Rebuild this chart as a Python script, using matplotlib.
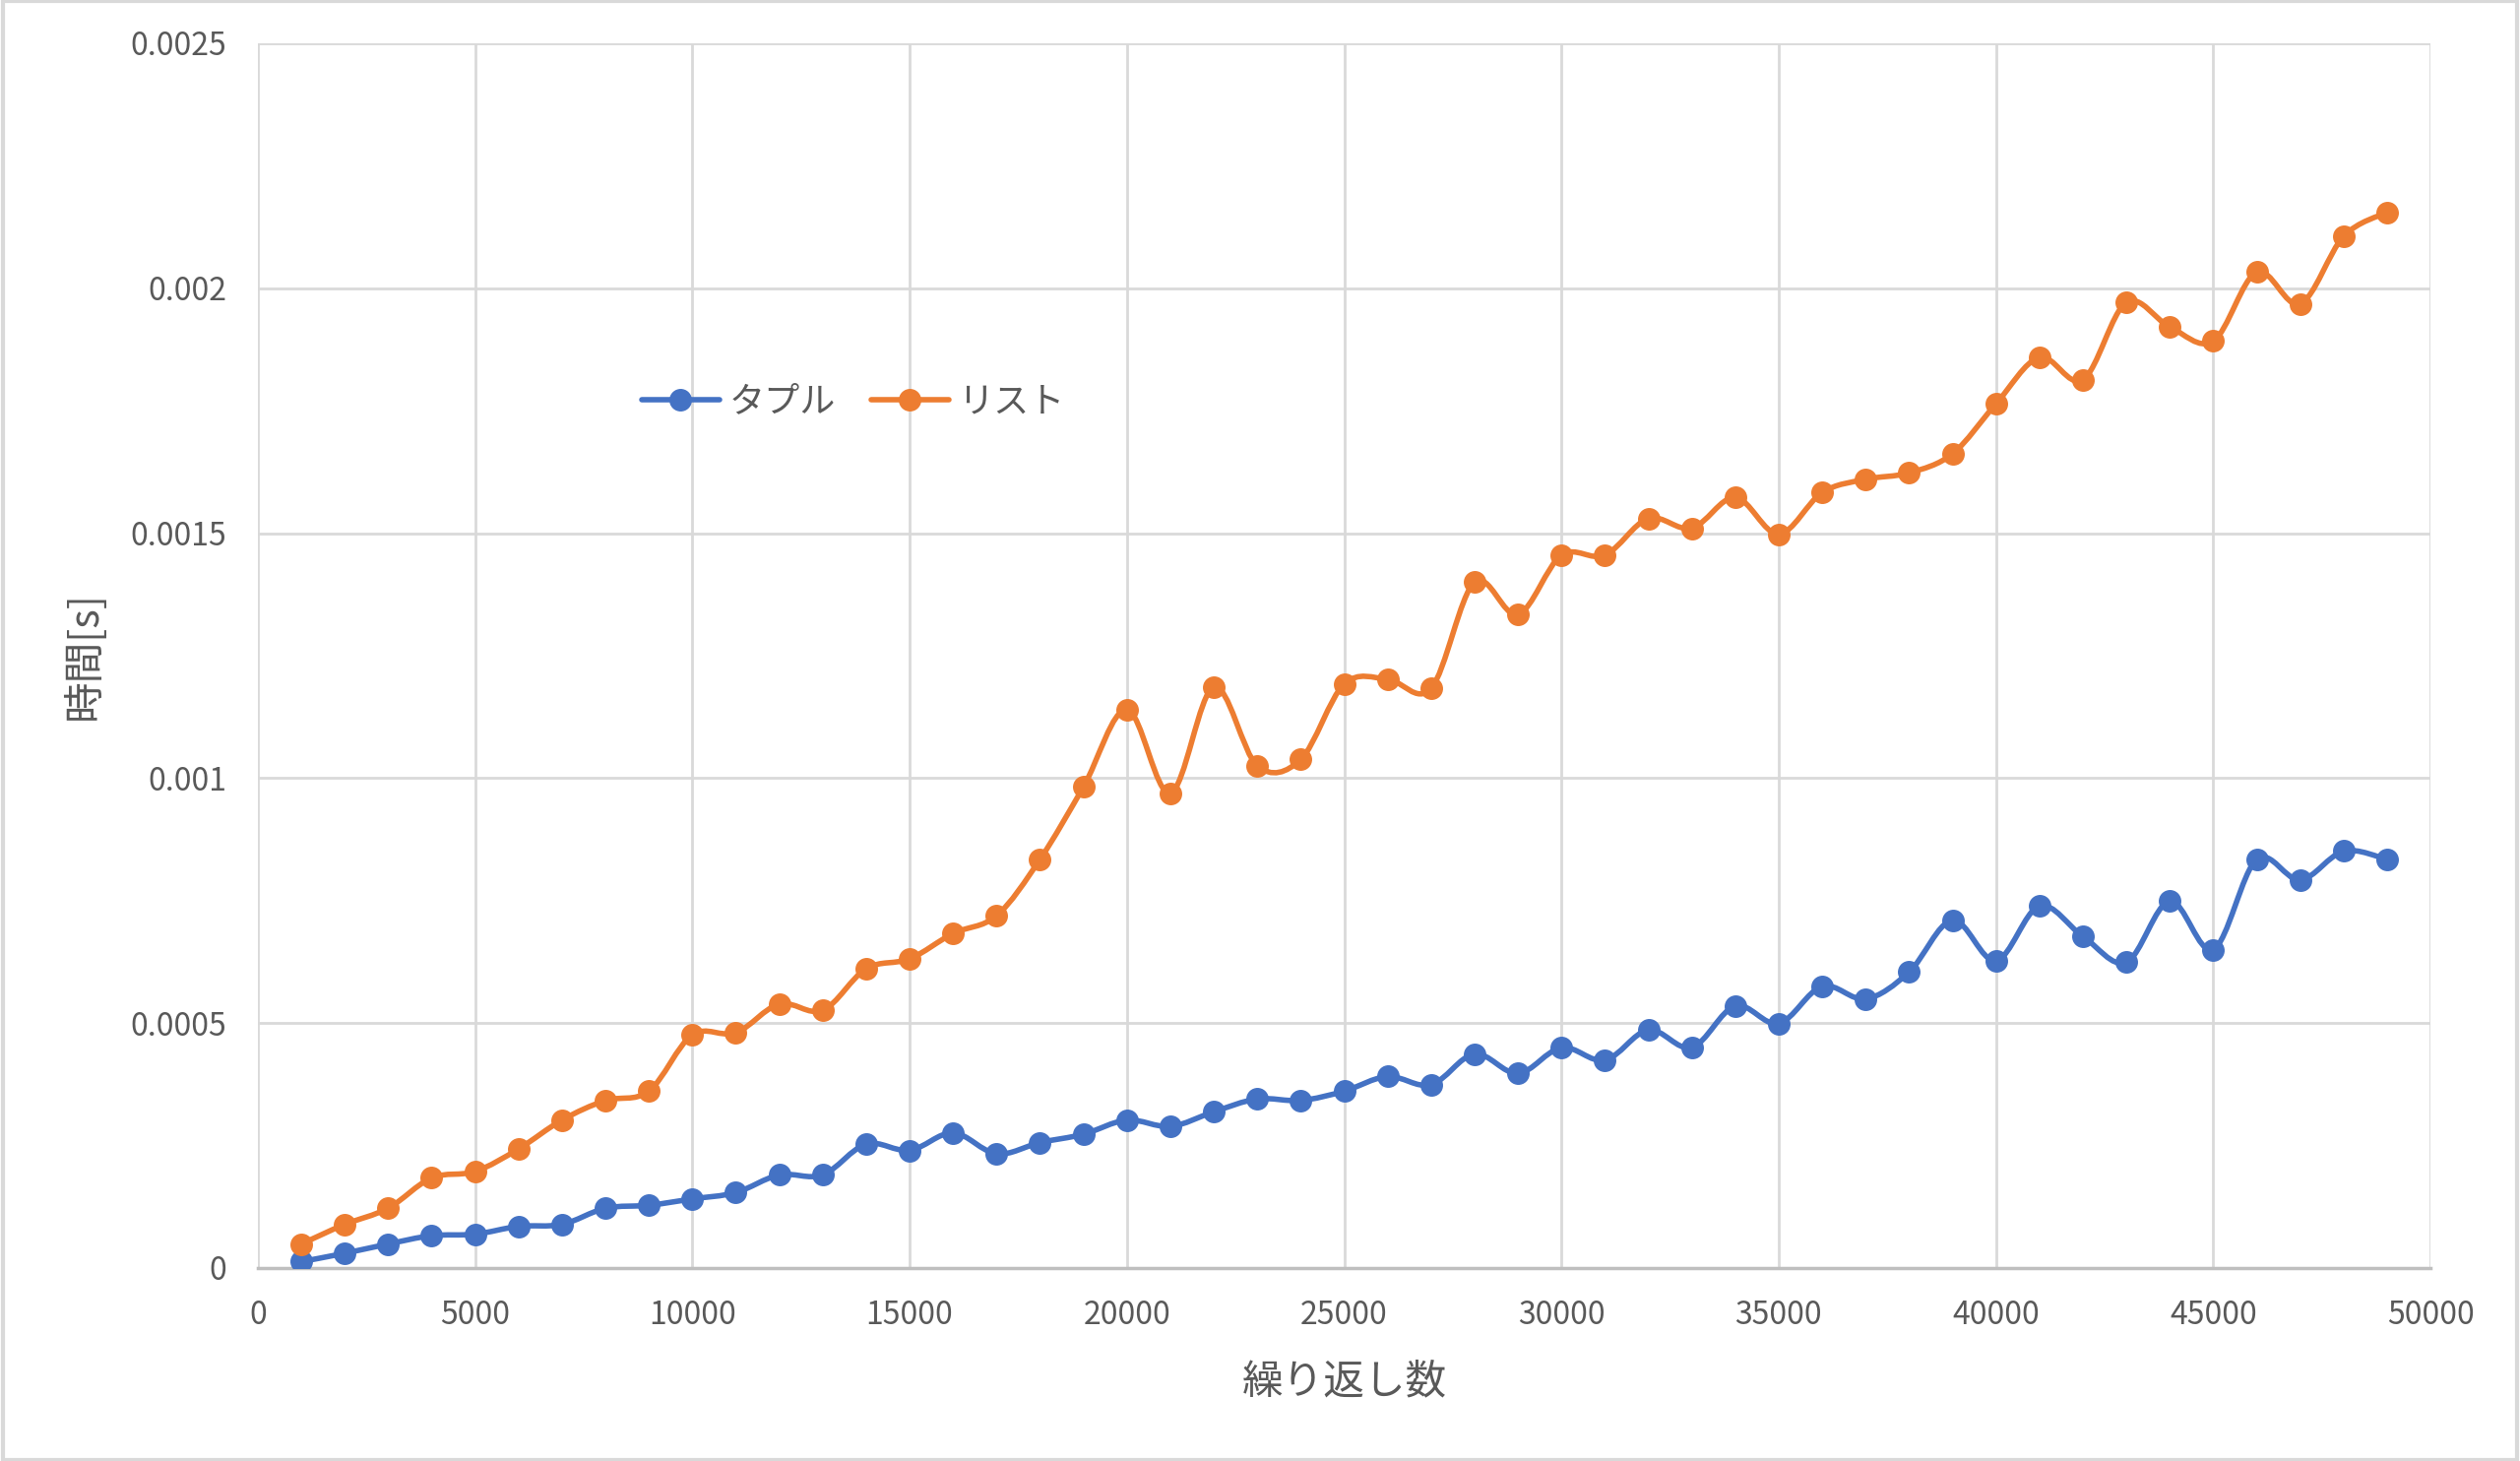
"""
tuple vs list timing chart (Excel-style smoothed lines)
"""

import matplotlib
matplotlib.use('Agg')
import matplotlib.pyplot as plt
from matplotlib.path import Path
from matplotlib.patches import PathPatch, Rectangle
from matplotlib.lines import Line2D

plt.rcParams['font.family'] = ['Noto Sans CJK JP', 'DejaVu Sans']

# iteration counts
counts = [1000, 2000, 3000, 4000, 5000, 6000, 7000, 8000, 9000, 10000,
          11000, 12000, 13000, 14000, 15000, 16000, 17000, 18000, 19000, 20000,
          21000, 22000, 23000, 24000, 25000, 26000, 27000, 28000, 29000, 30000,
          31000, 32000, 33000, 34000, 35000, 36000, 37000, 38000, 39000, 40000,
          41000, 42000, 43000, 44000, 45000, 46000, 47000, 48000, 49000]

# seconds
tuple_times = [0.000013, 0.000030, 0.000049, 0.000066, 0.000069, 0.000085, 0.000089,
               0.000122, 0.000128, 0.000141, 0.000154, 0.000190, 0.000190, 0.000253,
               0.000240, 0.000276, 0.000233, 0.000256, 0.000273, 0.000302, 0.000289,
               0.000319, 0.000345, 0.000342, 0.000361, 0.000391, 0.000374, 0.000437,
               0.000397, 0.000450, 0.000424, 0.000486, 0.000450, 0.000535, 0.000499,
               0.000575, 0.000549, 0.000604, 0.000710, 0.000627, 0.000739, 0.000677,
               0.000624, 0.000749, 0.000650, 0.000834, 0.000792, 0.000851, 0.000834]

list_times = [0.000049, 0.000089, 0.000122, 0.000184, 0.000197, 0.000243, 0.000302,
              0.000342, 0.000361, 0.000476, 0.000480, 0.000539, 0.000526, 0.000611,
              0.000631, 0.000683, 0.000719, 0.000834, 0.000982, 0.001140, 0.000969,
              0.001186, 0.001025, 0.001038, 0.001192, 0.001202, 0.001183, 0.001400,
              0.001334, 0.001455, 0.001455, 0.001530, 0.001510, 0.001573, 0.001498,
              0.001583, 0.001610, 0.001623, 0.001662, 0.001764, 0.001859, 0.001813,
              0.001971, 0.001921, 0.001892, 0.002033, 0.001968, 0.002106, 0.002155]

series_names = ['タプル', 'リスト']
series_colors = ['#4472C4', '#ED7D31']

x_ticks = [0, 5000, 10000, 15000, 20000, 25000, 30000, 35000, 40000, 45000, 50000]
y_ticks = [0, 0.0005, 0.001, 0.0015, 0.002, 0.0025]
y_tick_labels = ['0', '0.0005', '0.001', '0.0015', '0.002', '0.0025']

TEXT = '#595959'


def smooth_path(xs, ys):
    """Bezier path through the points, like Excel's 'smoothed line'."""
    pts = list(zip(xs, ys))
    verts = [pts[0]]
    codes = [Path.MOVETO]
    n = len(pts)
    for i in range(n - 1):
        p0 = pts[i - 1] if i > 0 else pts[i]
        p1 = pts[i]
        p2 = pts[i + 1]
        p3 = pts[i + 2] if i + 2 < n else pts[i + 1]
        c1 = (p1[0] + (p2[0] - p0[0]) / 6, p1[1] + (p2[1] - p0[1]) / 6)
        c2 = (p2[0] - (p3[0] - p1[0]) / 6, p2[1] - (p3[1] - p1[1]) / 6)
        verts += [c1, c2, p2]
        codes += [Path.CURVE4] * 3
    return Path(verts, codes)


fig = plt.figure(figsize=(25.6, 14.84), dpi=100)
ax = fig.add_axes([0.1023, 0.1321, 0.8622, 0.8383])

handles = []
for ys, name, color in zip([tuple_times, list_times], series_names, series_colors):
    ax.add_patch(PathPatch(smooth_path(counts, ys), facecolor='none',
                           edgecolor=color, linewidth=4, capstyle='round',
                           joinstyle='round', zorder=3))
    ax.plot(counts, ys, linestyle='none', marker='o', markersize=15.5,
            color=color, zorder=4)
    handles.append(Line2D([], [], color=color, linewidth=4, marker='o',
                          markersize=15.5, solid_capstyle='round', label=name))

ax.set_xlim(0, 50000)
ax.set_ylim(0, 0.0025)
ax.set_xticks(x_ticks)
ax.set_xticklabels([str(t) for t in x_ticks])
ax.set_yticks(y_ticks)
ax.set_yticklabels(y_tick_labels)
ax.tick_params(length=0, labelsize=23, labelcolor=TEXT)
ax.tick_params(axis='y', pad=23)
ax.tick_params(axis='x', pad=23)

ax.grid(True, color='#D9D9D9', linewidth=2)
ax.set_axisbelow(True)
for side in ['top', 'right', 'left']:
    ax.spines[side].set_visible(False)
ax.spines['bottom'].set_color('#BFBFBF')
ax.spines['bottom'].set_linewidth(2.5)

ax.set_xlabel('繰り返し数', fontsize=30, color=TEXT, labelpad=23)
ax.set_ylabel('時間[s]', fontsize=30, color=TEXT, labelpad=18)

ax.legend(handles=handles, ncol=2, frameon=False, fontsize=26,
          labelcolor=TEXT, handlelength=2.2, columnspacing=1.0,
          handletextpad=0.25, loc='center', bbox_to_anchor=(0.274, 0.707))

# chart-area border
fig.patches.append(Rectangle((0.001, 0.001), 0.998, 0.998, transform=fig.transFigure,
                             fill=False, edgecolor='#D9D9D9', linewidth=3))

plt.savefig('out.png', dpi=100, facecolor='white')
